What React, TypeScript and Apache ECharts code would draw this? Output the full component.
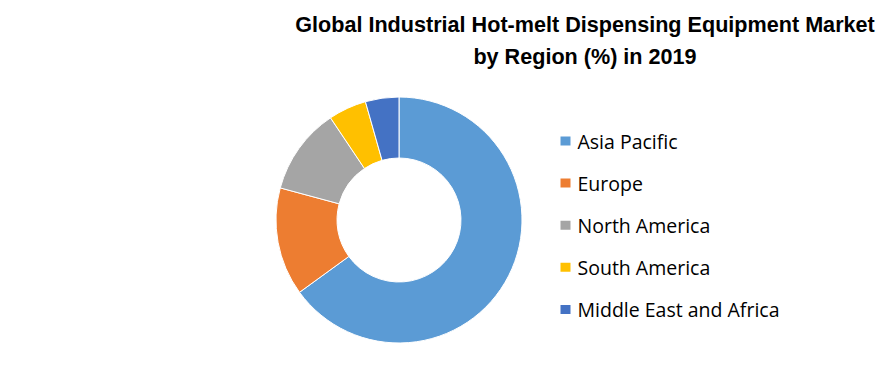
import React, { useEffect, useRef } from "react";
import * as echarts from "echarts";

const regions = ["Asia Pacific", "Europe", "North America", "South America", "Middle East and Africa"];
const shares = [65, 14.2, 11.4, 5, 4.4];
const colors = ["#5B9BD5", "#ED7D31", "#A5A5A5", "#FFC000", "#4472C4"];
const titleLines = ["Global Industrial Hot-melt Dispensing Equipment Market", "by Region (%) in 2019"];

export default function App() {
  const ref = useRef<HTMLDivElement>(null);
  useEffect(() => {
    if (!ref.current) return;
    const chart = echarts.init(ref.current, null, { renderer: "svg" });
    chart.setOption({
      animation: false,
      backgroundColor: "#ffffff",
      title: {
        text: titleLines.join("\n"),
        left: 572,
        top: -5,
        textAlign: "center",
        textStyle: {
          fontFamily: "Liberation Sans, Arial, sans-serif",
          fontWeight: "bold",
          fontSize: 21.6,
          lineHeight: 32,
          color: "#000000",
        },
      },
      legend: {
        orient: "vertical",
        left: 550.5,
        top: 123,
        padding: 0,
        itemWidth: 12,
        itemHeight: 11,
        itemGap: 22.1,
        icon: "rect",
        data: regions,
        textStyle: {
          fontFamily: "Open Sans, Liberation Sans, sans-serif",
          fontSize: 19.5,
          color: "#000000",
          padding: [0, 0, 0, 1],
          lineHeight: 20,
        },
      },
      series: [
        {
          type: "pie",
          center: [391, 212],
          radius: [62, 123],
          startAngle: 90,
          clockwise: true,
          label: { show: false },
          labelLine: { show: false },
          emphasis: { disabled: true },
          itemStyle: { borderColor: "#ffffff", borderWidth: 1 },
          data: regions.map((name, i) => ({
            name,
            value: shares[i],
            itemStyle: { color: colors[i] },
          })),
        },
      ],
    });
    return () => chart.dispose();
  }, []);
  return <div ref={ref} style={{ width: 872, height: 368 }} />;
}
